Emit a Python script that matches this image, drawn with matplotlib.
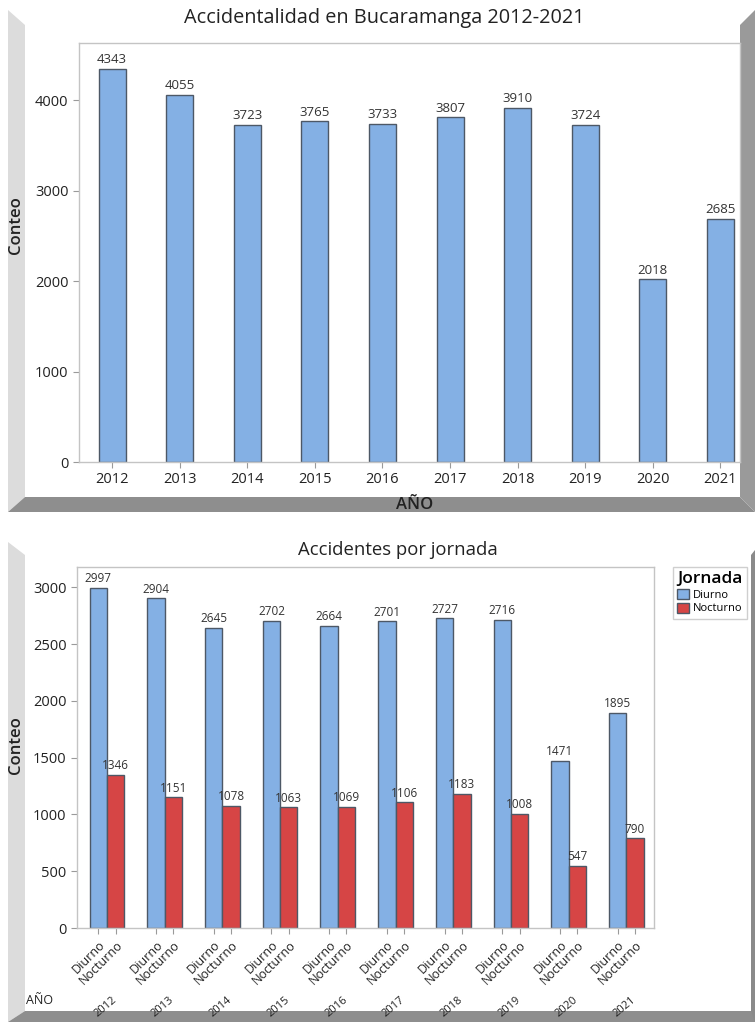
import matplotlib
matplotlib.use('Agg')
import matplotlib.pyplot as plt
from matplotlib.patches import Polygon, Patch
from matplotlib.transforms import blended_transform_factory
import numpy as np

plt.rcParams['font.family'] = ['Open Sans', 'DejaVu Sans']

# data
years = ['2012', '2013', '2014', '2015', '2016', '2017', '2018', '2019', '2020', '2021']
total = [4343, 4055, 3723, 3765, 3733, 3807, 3910, 3724, 2018, 2685]
diurno = [2997, 2904, 2645, 2702, 2664, 2701, 2727, 2716, 1471, 1895]
nocturno = [1346, 1151, 1078, 1063, 1069, 1106, 1183, 1008, 547, 790]
jornadas = ['Diurno', 'Nocturno']

BLUE = '#84B0E4'
RED = '#D64545'
EDGE = '#4d5866'
SPINE = '#c4c4c4'
TXT = '#222222'

W, H = 755, 1022


def rect(x0, y0, x1, y1):
    # pixel box (top-left origin) -> figure fraction
    return [x0 / W, 1 - y1 / H, (x1 - x0) / W, (y1 - y0) / H]


fig = plt.figure(figsize=(W / 100, H / 100), dpi=100)

# bevel frames behind the charts
bg = fig.add_axes([0, 0, 1, 1], zorder=-1)
bg.set_xlim(0, W)
bg.set_ylim(H, 0)
bg.axis('off')
LIGHT, DARK = '#dcdcdc', '#8e8e8e'
bg.add_patch(Polygon([(8, 10), (25, 25), (25, 497), (8, 512)], color=LIGHT, lw=0))
bg.add_patch(Polygon([(8, 512), (25, 497), (740, 497), (755, 512)], color=DARK, lw=0))
bg.add_patch(Polygon([(740, 25), (755, 10), (755, 512), (740, 497)], color='#9a9a9a', lw=0))
bg.add_patch(Polygon([(8, 542), (25, 555), (25, 1011), (8, 1022)], color=LIGHT, lw=0))
bg.add_patch(Polygon([(8, 1022), (25, 1011), (755, 1011), (755, 1022)], color=DARK, lw=0))

bg.text(384, 18, 'Accidentalidad en Bucaramanga 2012-2021', ha='center', va='center',
        fontsize=14.3, color=TXT)
bg.text(16, 225, 'Conteo', rotation=90, ha='center', va='center', fontsize=12,
        fontweight='semibold', color=TXT)
bg.text(415, 505, 'AÑO', ha='center', va='center', fontsize=12, fontweight='semibold', color=TXT)
bg.text(398, 550, 'Accidentes por jornada', ha='center', va='center', fontsize=13.3, color=TXT)
bg.text(16, 745, 'Conteo', rotation=90, ha='center', va='center', fontsize=12,
        fontweight='semibold', color=TXT)
bg.text(26, 1000, 'AÑO', ha='left', va='center', fontsize=9, color=TXT)


def style(ax):
    for s in ax.spines.values():
        s.set_color(SPINE)
        s.set_linewidth(1)
    ax.tick_params(length=4, color='#9a9a9a', labelcolor=TXT, labelsize=10.5)


# top chart
x = np.arange(len(years))
ax1 = fig.add_axes(rect(79, 43, 740, 462))
ax1.bar(x, total, width=0.4, color=BLUE, edgecolor=EDGE, linewidth=1)
for xi, v in zip(x, total):
    ax1.annotate(str(v), (xi, v), xytext=(0, 2), textcoords='offset points',
                 ha='center', va='bottom', fontsize=9.5, color='#333333')
ax1.set_xlim(-0.49, 9.29)
ax1.set_ylim(0, 4630)
ax1.set_xticks(x, years)
ax1.set_yticks([0, 1000, 2000, 3000, 4000])
style(ax1)

# bottom chart
w = 0.3
ax2 = fig.add_axes(rect(77, 567, 654, 928))
ax2.bar(x - w / 2, diurno, width=w, color=BLUE, edgecolor=EDGE, linewidth=1, label=jornadas[0])
ax2.bar(x + w / 2, nocturno, width=w, color=RED, edgecolor=EDGE, linewidth=1, label=jornadas[1])
for xi, a, b in zip(x, diurno, nocturno):
    ax2.annotate(str(a), (xi - w / 2, a), xytext=(0, 2), textcoords='offset points',
                 ha='center', va='bottom', fontsize=8.5, color='#333333')
    ax2.annotate(str(b), (xi + w / 2, b), xytext=(0, 2), textcoords='offset points',
                 ha='center', va='bottom', fontsize=8.5, color='#333333')
ax2.set_xlim(-0.52, 9.48)
ax2.set_ylim(0, 3180)
ticks = np.ravel(np.column_stack([x - w / 2, x + w / 2]))
ax2.set_xticks(ticks, jornadas * len(years))
ax2.set_yticks(np.arange(0, 3001, 500))
style(ax2)
plt.setp(ax2.get_xticklabels(), rotation=45, ha='right', va='top', rotation_mode='anchor',
         fontsize=9)
tr = blended_transform_factory(ax2.transData, ax2.transAxes)
for xi, yr in zip(x, years):
    ax2.text(xi + 0.08, -0.185, yr, transform=tr, rotation=40, ha='right', va='top',
             rotation_mode='anchor', fontsize=8, color=TXT, clip_on=False)

handles = [Patch(facecolor=BLUE, edgecolor=EDGE), Patch(facecolor=RED, edgecolor=EDGE)]
leg = fig.legend(handles, jornadas, title='Jornada', loc='upper left',
                 bbox_to_anchor=(673 / W, 1 - 567 / H), borderaxespad=0, fontsize=8,
                 title_fontproperties={'size': 12.5, 'weight': 'semibold'},
                 frameon=True, fancybox=False, edgecolor=SPINE, alignment='left',
                 handlelength=1.0, handleheight=1.0, handletextpad=0.4, labelspacing=0.15,
                 borderpad=0.4)
leg.get_frame().set_linewidth(1)

# thin right edge of the lower frame sits over the legend
ov = fig.add_axes([0, 0, 1, 1], zorder=10)
ov.set_xlim(0, W)
ov.set_ylim(H, 0)
ov.axis('off')
ov.patch.set_alpha(0)
ov.add_patch(Polygon([(751, 555), (755, 550), (755, 1022), (751, 1011)], color='#8a8a8a', lw=0))

fig.savefig('out.png', dpi=100, facecolor='white')
